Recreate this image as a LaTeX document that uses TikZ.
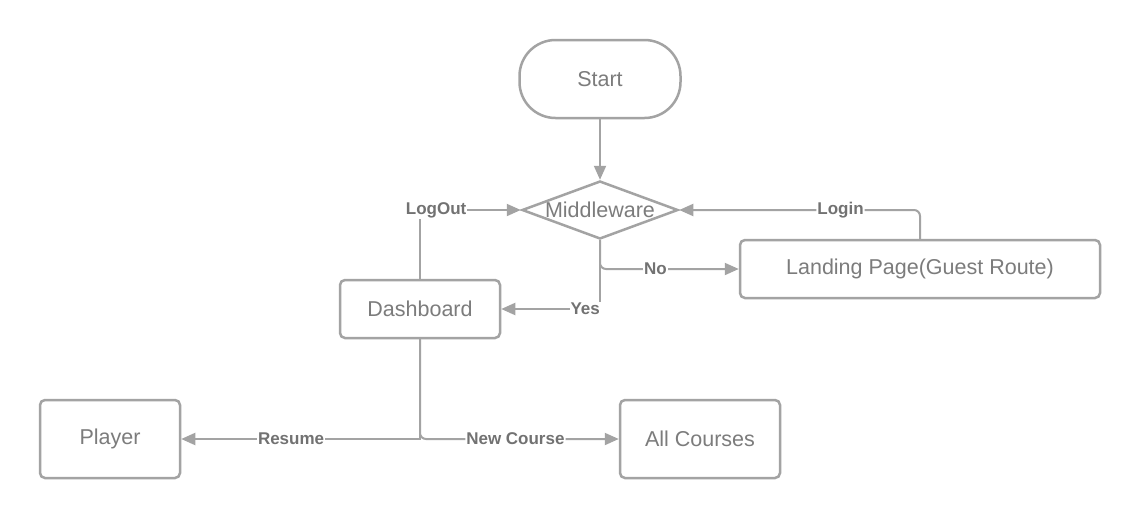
\documentclass[tikz,border=0pt]{standalone}
\usepackage{fontspec}
\setmainfont{Liberation Sans}
\usetikzlibrary{shapes.geometric,arrows.meta}
\definecolor{lc}{HTML}{A3A3A3}
\definecolor{tc}{HTML}{7C7C7C}
\definecolor{lab}{HTML}{727272}
\tikzset{
  box/.style={draw=lc, line width=2.5pt, rounded corners=5pt, text=tc, font=\fontsize{21.5}{25}\selectfont, inner sep=0pt},
  conn/.style={draw=lc, line width=2pt, -{Triangle[length=14pt,width=12pt]}},
  plain/.style={draw=lc, line width=2pt},
  lbl/.style={fill=white, text=lab, font=\fontsize{17}{20}\selectfont\bfseries, inner sep=1pt}
}
\begin{document}
\begin{tikzpicture}[x=1pt,y=-1pt]
\useasboundingbox (0,0) rectangle (1140,520);
\fill[white] (0,0) rectangle (1140,520);
\node[box, rounded corners=36pt, minimum width=161pt, minimum height=78pt] (start) at (600,79) {Start};
\node[box, shape=diamond, rounded corners=0pt, minimum width=156pt, minimum height=58pt] (mid) at (600,210) {\makebox[0pt]{Middleware}};
\node[box, minimum width=360pt, minimum height=58pt] (land) at (920,269) {Landing Page(Guest Route)};
\node[box, minimum width=160pt, minimum height=58pt] (dash) at (420,309) {Dashboard};
\node[box, minimum width=140pt, minimum height=78pt] (player) at (110,439) {Player};
\node[box, minimum width=160pt, minimum height=78pt] (all) at (700,439) {All Courses};

\draw[conn] (start.south) -- (mid.north);
\draw[conn, rounded corners=6pt] (mid.south) |- (land.west) node[lbl, pos=0.70] (lno) {No};
\draw[conn] (mid.south) |- (dash.east) node[lbl, pos=0.575] (lyes) {Yes};
\draw[conn] (dash.north) |- (mid.west) node[lbl, pos=0.58] (llog) {LogOut};
\draw[conn, rounded corners=6pt] (land.north) |- (mid.east) node[lbl, pos=0.665] (llogin) {Login};
\draw[conn] (dash.south) |- (player.east) node[lbl, pos=0.77] (lres) {Resume};
\draw[conn, rounded corners=6pt] (dash.south) |- (all.west) node[lbl, pos=0.74] (lnew) {New Course};
\end{tikzpicture}
\end{document}
